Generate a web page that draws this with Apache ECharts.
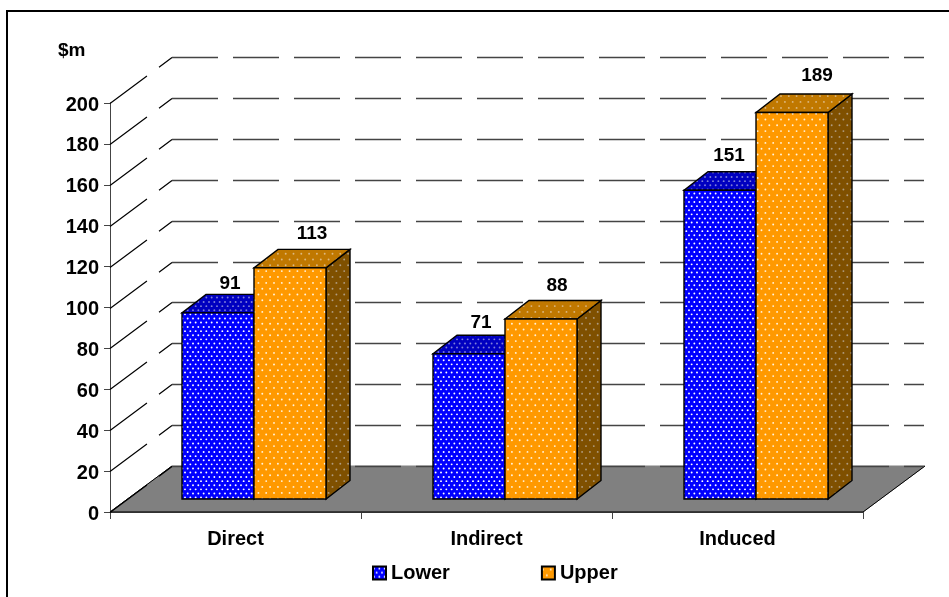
<!DOCTYPE html>
<html>
<head>
<meta charset="utf-8">
<style>html,body{margin:0;padding:0;background:#fff}#chart{width:949px;height:597px}</style>
<script src="https://cdn.jsdelivr.net/npm/echarts@6/dist/echarts.min.js"></script>
</head>
<body>
<div id="chart"></div>
<script>
// Economic impact by effect type, lower and upper estimates ($m)
const categories = ['Direct', 'Indirect', 'Induced'];
const lowerValues = [91, 71, 151];
const upperValues = [113, 88, 189];
const yTicks = [0, 20, 40, 60, 80, 100, 120, 140, 160, 180, 200];

// Nudges of the value labels relative to the bar's centre and top
const lowerLabelDx = [12, 12, 9];
const lowerLabelDy = [-29, -31, -34];
const upperLabelDx = [22, 16, 25];
const upperLabelDy = [-34, -33.5, -37];

const FONT = '"Liberation Sans", Arial, sans-serif';
const WALL_DX = 62, WALL_DY = -46;     // depth of the floor and back wall
const PLANE_DX = 18.5, PLANE_DY = -13; // where the bars stand on the floor
const BAR_W = 72, BAR_DX = 24, BAR_DY = -18.5; // bar width and bar depth

// Builds a repeating fill of staggered dots
function dots(base, dot, stepX, stepY, cols, rows, radius) {
  const c = document.createElement('canvas');
  c.width = Math.round(stepX * cols);
  c.height = Math.round(stepY * rows * 2);
  const g = c.getContext('2d');
  g.fillStyle = base;
  g.fillRect(0, 0, c.width, c.height);
  g.fillStyle = dot;
  for (let r = 0; r < rows * 2; r++) {
    for (let k = 0; k < cols; k++) {
      g.beginPath();
      g.arc((k + (r % 2 ? 0.5 : 0)) * stepX + 1, (r + 0.5) * stepY, radius, 0, Math.PI * 2);
      g.fill();
    }
  }
  return { image: c, repeat: 'repeat' };
}

const fills = {
  lower: {
    front: dots('#0000ff', '#ffffff', 16 / 3, 4.1, 3, 3, 0.95),
    top: dots('#0000c0', '#8080d8', 16 / 3, 4.1, 3, 3, 0.95),
    side: dots('#00008a', '#6060b0', 16 / 3, 4.1, 3, 3, 0.95)
  },
  upper: {
    front: dots('#ff9900', '#fff3dc', 7.8, 5.8, 5, 3, 0.95),
    top: dots('#c07800', '#dcb880', 7.8, 5.8, 5, 3, 0.95),
    side: dots('#7f5000', '#b09c80', 7.8, 5.8, 5, 3, 0.95)
  }
};

// A bar with front, top and right faces, and its value label
function barRenderer(kind, shift, labelDx, labelDy) {
  return function (params, api) {
    const i = api.value(0), v = api.value(1);
    const topPt = api.coord([i, v]);
    const basePt = api.coord([i, 0]);
    const x0 = topPt[0] + PLANE_DX + shift;
    const x1 = x0 + BAR_W;
    const yTop = topPt[1] + PLANE_DY;
    const yBase = basePt[1] + PLANE_DY;
    const edge = { stroke: '#000', lineWidth: 1.4, lineJoin: 'miter' };
    const face = (points, fill) => ({
      type: 'polygon',
      shape: { points },
      style: Object.assign({ fill }, edge)
    });
    return {
      type: 'group',
      children: [
        face([[x1, yTop], [x1 + BAR_DX, yTop + BAR_DY], [x1 + BAR_DX, yBase + BAR_DY], [x1, yBase]], fills[kind].side),
        face([[x0, yTop], [x1, yTop], [x1 + BAR_DX, yTop + BAR_DY], [x0 + BAR_DX, yTop + BAR_DY]], fills[kind].top),
        face([[x0, yTop], [x1, yTop], [x1, yBase], [x0, yBase]], fills[kind].front),
        {
          type: 'text',
          x: x0 + BAR_W / 2 + labelDx[i],
          y: yTop + labelDy[i],
          style: {
            text: String(v), fill: '#000', align: 'center', verticalAlign: 'middle',
            font: 'bold 19px ' + FONT
          }
        }
      ]
    };
  };
}

const chart = echarts.init(document.getElementById('chart'), null, { renderer: 'canvas' });

chart.setOption({
  animation: false,
  backgroundColor: '#fff',
  title: {
    text: '$m', left: 58, top: 41, padding: 0,
    textStyle: { fontFamily: FONT, fontWeight: 'bold', fontSize: 19, color: '#000' }
  },
  grid: { left: 110, right: 86, top: 103, bottom: 85 },
  legend: {
    left: 372, top: 563, padding: 0, itemWidth: 13, itemHeight: 13, itemGap: 91,
    icon: 'rect',
    data: ['Lower', 'Upper'],
    textStyle: { fontFamily: FONT, fontWeight: 'bold', fontSize: 20, color: '#000', padding: [3, 0, 0, 0] }
  },
  xAxis: {
    type: 'category',
    data: categories,
    axisLine: { lineStyle: { color: '#444', width: 1 } },
    axisTick: { show: true, alignWithLabel: false, length: 7, lineStyle: { color: '#444' } },
    axisLabel: { margin: 17, fontFamily: FONT, fontWeight: 'bold', fontSize: 20, color: '#000' },
    splitLine: { show: false }
  },
  yAxis: {
    type: 'value', min: 0, max: 200, interval: 20,
    axisLine: { show: true, lineStyle: { color: '#444', width: 1 } },
    axisTick: { show: true, length: 6, lineStyle: { color: '#444' } },
    axisLabel: {
      margin: 11,
      formatter: '{t|{value}}',
      rich: { t: { fontFamily: FONT, fontWeight: 'bold', fontSize: 20, color: '#000', padding: [4, 0, 0, 0] } }
    },
    splitLine: { show: false }
  },
  graphic: [
    // Chart frame: only the top and left edges fall inside the page
    { type: 'line', shape: { x1: 7, y1: 11, x2: 949, y2: 11 }, style: { stroke: '#000', lineWidth: 2 }, silent: true },
    { type: 'line', shape: { x1: 7, y1: 10, x2: 7, y2: 597 }, style: { stroke: '#000', lineWidth: 2 }, silent: true }
  ],
  series: [
    {
      // Floor of the plot box
      type: 'custom', name: 'floor', coordinateSystem: 'cartesian2d', data: [[0, 0]],
      z: 1, silent: true, clip: false,
      renderItem: function (params) {
        const r = params.coordSys;
        const yb = r.y + r.height;
        const corners = [[r.x, yb], [r.x + r.width, yb], [r.x + r.width + WALL_DX, yb + WALL_DY], [r.x + WALL_DX, yb + WALL_DY]];
        return {
          type: 'group',
          children: [
            { type: 'polygon', shape: { points: corners }, style: { fill: '#808080', stroke: '#808080' } },
            { type: 'line', shape: { x1: corners[0][0], y1: corners[0][1], x2: corners[3][0], y2: corners[3][1] }, style: { stroke: '#000', lineWidth: 1 } },
            { type: 'line', shape: { x1: corners[1][0], y1: corners[1][1], x2: corners[2][0], y2: corners[2][1] }, style: { stroke: '#000', lineWidth: 1 } },
            { type: 'line', shape: { x1: corners[0][0], y1: corners[0][1], x2: corners[1][0], y2: corners[1][1] }, style: { stroke: '#222', lineWidth: 1.5 } }
          ]
        };
      }
    },
    {
      // Dashed gridlines running along the side wall and the back wall
      type: 'custom', name: 'gridlines', coordinateSystem: 'cartesian2d',
      data: yTicks.map(t => [0, t]),
      z: 2, silent: true, clip: false,
      renderItem: function (params, api) {
        const r = params.coordSys;
        const y = Math.round(api.coord([0, api.value(1)])[1]) + 0.5;
        return {
          type: 'group',
          children: [
            { type: 'line', shape: { x1: r.x, y1: y, x2: r.x + WALL_DX, y2: y + WALL_DY }, style: { stroke: '#000', lineDash: [46, 15], lineWidth: 1.2 } },
            { type: 'line', shape: { x1: r.x + WALL_DX, y1: y + WALL_DY, x2: r.x + r.width + WALL_DX - 1, y2: y + WALL_DY }, style: { stroke: '#444', lineDash: [46, 15], lineWidth: 1.4 } }
          ]
        };
      }
    },
    {
      type: 'custom', name: 'Lower', coordinateSystem: 'cartesian2d',
      data: lowerValues.map((v, i) => [i, v]), encode: { x: 0, y: 1 },
      z: 3, clip: false,
      itemStyle: { color: fills.lower.front, borderColor: '#000', borderWidth: 1 },
      renderItem: barRenderer('lower', -BAR_W, lowerLabelDx, lowerLabelDy)
    },
    {
      type: 'custom', name: 'Upper', coordinateSystem: 'cartesian2d',
      data: upperValues.map((v, i) => [i, v]), encode: { x: 0, y: 1 },
      z: 4, clip: false,
      itemStyle: { color: fills.upper.front, borderColor: '#000', borderWidth: 1 },
      renderItem: barRenderer('upper', 0, upperLabelDx, upperLabelDy)
    }
  ]
});
</script>
</body>
</html>
